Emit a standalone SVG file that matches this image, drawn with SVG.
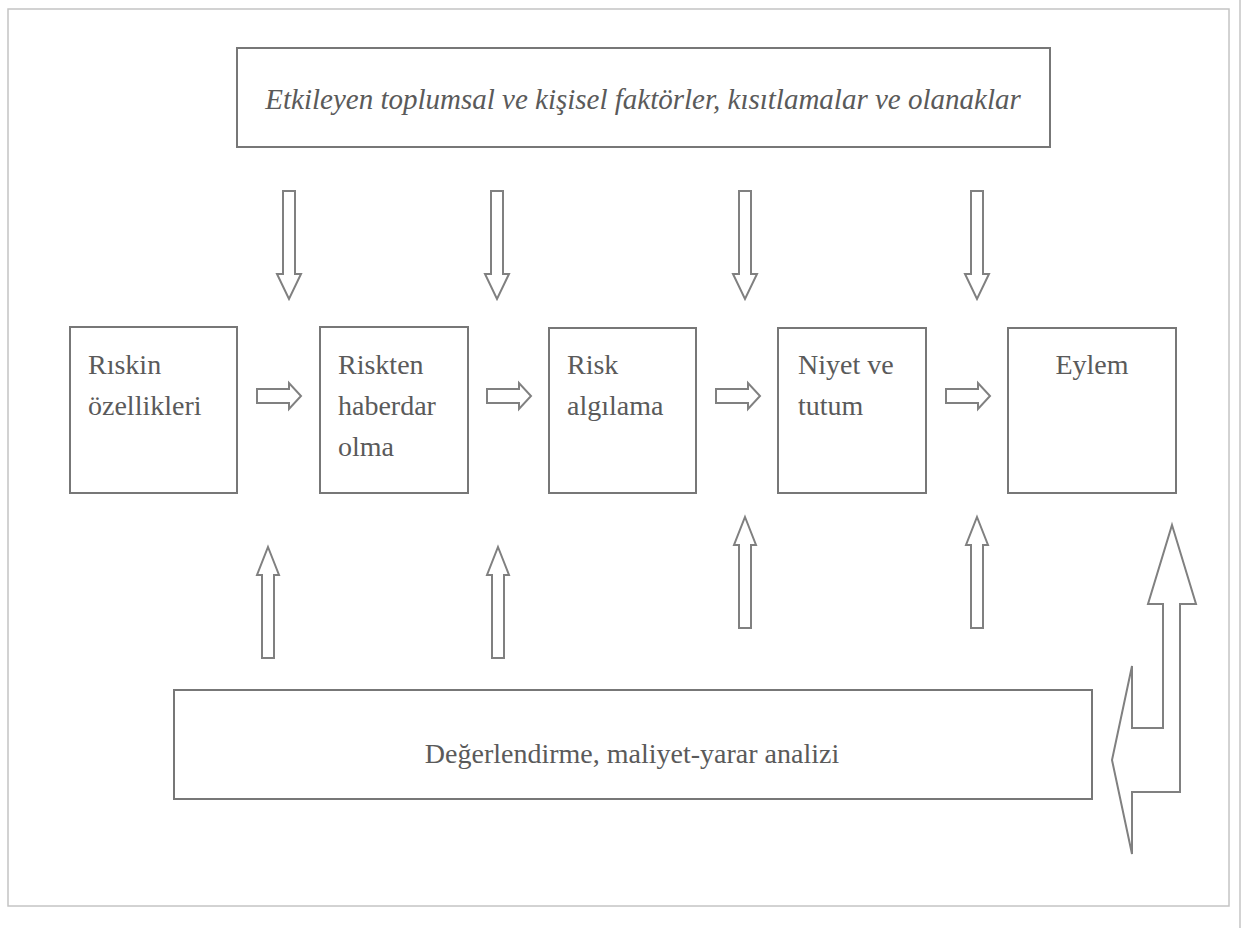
<svg xmlns="http://www.w3.org/2000/svg" width="1246" height="928" viewBox="0 0 1246 928">
<style>
.frame{fill:none;stroke:#c4c4c4;stroke-width:1.5}
.box{fill:#fff;stroke:#777;stroke-width:2}
.arr{fill:#fff;stroke:#808080;stroke-width:2;stroke-linejoin:miter}
.t{font-family:"Liberation Serif","Times New Roman",serif;font-size:28px;fill:#5a5a5a}
.ti{font-style:italic;font-size:29px}
</style>
<defs>
<polygon id="down" class="arr" points="-6,0 6,0 6,83 12,83 0,108 -12,83 -6,83"/>
<polygon id="up" class="arr" points="0,0 11,28 6,28 6,111 -6,111 -6,28 -11,28"/>
<polygon id="right" class="arr" points="0,-7 32,-7 32,-13 44,0 32,13 32,7 0,7"/>
</defs>
<rect width="1246" height="928" fill="#fff"/>
<rect class="frame" x="8" y="9" width="1221" height="897"/>
<line class="frame" x1="1240" y1="0" x2="1240" y2="928"/>
<g id="top">
<rect class="box" x="237" y="48" width="813" height="99"/>
<text class="t ti" x="643" y="109" text-anchor="middle">Etkileyen toplumsal ve kişisel faktörler, kısıtlamalar ve olanaklar</text>
</g>
<g id="n1">
<rect class="box" x="70" y="327" width="167" height="166"/>
<text class="t" x="88" y="374">Rıskin</text>
<text class="t" x="88" y="415">özellikleri</text>
</g>
<g id="n2">
<rect class="box" x="320" y="327" width="148" height="166"/>
<text class="t" x="338" y="374">Riskten</text>
<text class="t" x="338" y="415">haberdar</text>
<text class="t" x="338" y="456">olma</text>
</g>
<g id="n3">
<rect class="box" x="549" y="328" width="147" height="165"/>
<text class="t" x="567" y="374">Risk</text>
<text class="t" x="567" y="415">algılama</text>
</g>
<g id="n4">
<rect class="box" x="778" y="328" width="148" height="165"/>
<text class="t" x="798" y="374">Niyet ve</text>
<text class="t" x="798" y="415">tutum</text>
</g>
<g id="n5">
<rect class="box" x="1008" y="328" width="168" height="165"/>
<text class="t" x="1092" y="374" text-anchor="middle">Eylem</text>
</g>
<g id="bottom">
<rect class="box" x="174" y="690" width="918" height="109"/>
<text class="t" x="632" y="763" text-anchor="middle">Değerlendirme, maliyet-yarar analizi</text>
</g>
<g id="connectors">
<use href="#down" x="289" y="191"/>
<use href="#down" x="497" y="191"/>
<use href="#down" x="745" y="191"/>
<use href="#down" x="977" y="191"/>
<use href="#right" x="257" y="396"/>
<use href="#right" x="487" y="396"/>
<use href="#right" x="716" y="396"/>
<use href="#right" x="946" y="396"/>
<use href="#up" x="268" y="547"/>
<use href="#up" x="498" y="547"/>
<use href="#up" x="745" y="517"/>
<use href="#up" x="977" y="517"/>
<polygon class="arr" points="1172,525 1196,604 1180,604 1180,792 1132,792 1132,854 1112,760 1132,666 1132,728 1163,728 1163,604 1148,604"/>
</g>
</svg>
